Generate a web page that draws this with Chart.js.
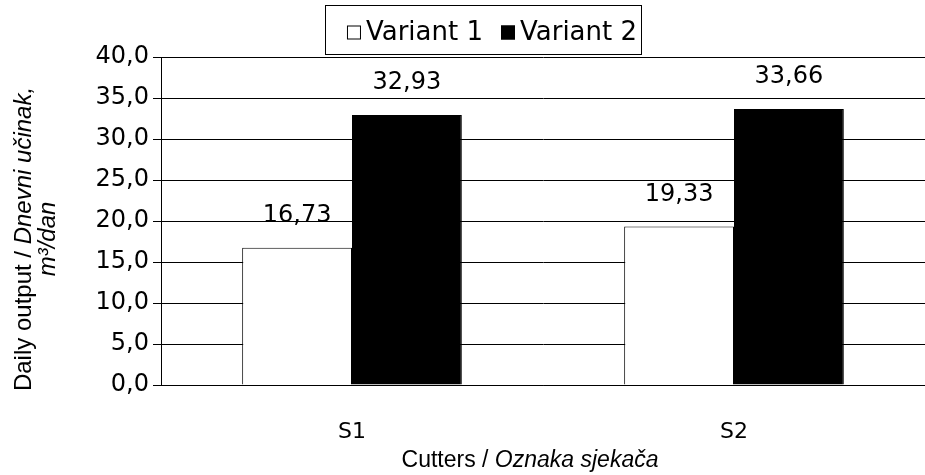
<!DOCTYPE html>
<html>
<head>
<meta charset="utf-8">
<script src="https://cdn.jsdelivr.net/npm/chart.js@4"></script>
<style>
  body { margin: 0; background: #fff; }
  #wrap { width: 925px; height: 475px; }
</style>
</head>
<body>
<div id="wrap"><canvas id="chart" width="925" height="475"></canvas></div>
<script>
const cutters = ["S1", "S2"]; // categories on the x axis
const variant1 = [16.73, 19.33]; // white bars
const variant2 = [32.93, 33.66]; // black bars
const seriesNames = ["Variant 1", "Variant 2"];

const fmt = v => v.toFixed(2).replace(".", ",");

// value labels above each bar
const barLabels = {
  id: "barLabels",
  afterDatasetsDraw(chart) {
    const ctx = chart.ctx;
    ctx.save();
    ctx.font = "24px 'DejaVu Sans'";
    ctx.fillStyle = "#000";
    ctx.textAlign = "center";
    ctx.textBaseline = "bottom";
    chart.data.datasets.forEach((ds, i) => {
      chart.getDatasetMeta(i).data.forEach((bar, j) => {
        ctx.fillText(fmt(ds.data[j]), bar.x, bar.y - 20);
      });
    });
    ctx.restore();
  }
};

// framed legend + axis titles with italic parts
const extras = {
  id: "extras",
  afterDraw(chart) {
    const ctx = chart.ctx;
    ctx.save();
    ctx.fillStyle = "#000";
    ctx.strokeStyle = "#000";

    // legend
    ctx.font = "26px 'DejaVu Sans'";
    const box = 14, gap = 5, space = 18;
    const items = chart.data.datasets.map(ds => ({
      ds, w: box + gap + ctx.measureText(ds.label).width
    }));
    const total = items.reduce((s, it) => s + it.w, 0) + space * (items.length - 1);
    const cx = 492, top = 5, h = 49;
    const fl = Math.round(cx - total / 2 - 22), fr = Math.round(cx + total / 2 + 4);
    ctx.lineWidth = 1;
    ctx.strokeRect(fl + 0.5, top + 0.5, fr - fl, h);
    let x = cx - total / 2;
    const my = top + h / 2 + 3;
    ctx.textBaseline = "middle";
    ctx.textAlign = "left";
    items.forEach(it => {
      ctx.fillStyle = it.ds.backgroundColor;
      ctx.fillRect(x, my - box / 2, box, box);
      ctx.strokeRect(x + 0.5, my - box / 2 + 0.5, box - 1, box - 1);
      ctx.fillStyle = "#000";
      ctx.fillText(it.ds.label, x + box + gap, my + 1);
      x += it.w + space;
    });

    // x title
    const area = chart.chartArea;
    const xf = "23px 'Liberation Sans'", xfi = "italic 23px 'Liberation Sans'";
    ctx.font = xf;
    const p1 = "Cutters / ", p2 = "Oznaka sjekača";
    const w1 = ctx.measureText(p1).width;
    ctx.font = xfi;
    const w2 = ctx.measureText(p2).width;
    let tx = 530 - (w1 + w2) / 2;
    ctx.textBaseline = "alphabetic";
    ctx.font = xf;
    ctx.fillText(p1, tx, 467);
    ctx.font = xfi;
    ctx.fillText(p2, tx + w1, 467);

    // y title (two lines, rotated)
    const yf = "24px 'Liberation Sans'", yfi = "italic 24px 'Liberation Sans'";
    ctx.translate(0, (area.top + area.bottom) / 2 + 18);
    ctx.rotate(-Math.PI / 2);
    const q1 = "Daily output / ", q2 = "Dnevni učinak,";
    ctx.font = yf;
    const v1 = ctx.measureText(q1).width;
    ctx.font = yfi;
    const v2 = ctx.measureText(q2).width;
    const sx = -(v1 + v2) / 2;
    ctx.font = yf;
    ctx.fillText(q1, sx, 31);
    ctx.font = yfi;
    ctx.fillText(q2, sx + v1, 31);
    ctx.textAlign = "center";
    ctx.fillText("m³/dan", 0, 55);
    ctx.restore();
  }
};

new Chart(document.getElementById("chart"), {
  type: "bar",
  data: {
    labels: cutters,
    datasets: [
      {
        label: seriesNames[0],
        data: variant1,
        backgroundColor: "#ffffff",
        borderColor: "#000000",
        borderWidth: 1
      },
      {
        label: seriesNames[1],
        data: variant2,
        backgroundColor: "#000000",
        borderColor: "#000000",
        borderWidth: 1
      }
    ]
  },
  options: {
    responsive: false,
    animation: false,
    layout: { padding: { top: 57, left: 0, right: 0, bottom: 0 } },
    datasets: { bar: { categoryPercentage: 0.575, barPercentage: 1 } },
    plugins: {
      legend: { display: false },
      tooltip: { enabled: false }
    },
    scales: {
      x: {
        grid: { display: false },
        border: { color: "#000", width: 1 },
        ticks: { color: "#000", font: { family: "DejaVu Sans", size: 22 }, padding: 26 },
        afterFit(scale) { scale.height = 90; }
      },
      y: {
        min: 0,
        max: 40,
        ticks: {
          stepSize: 5,
          color: "#000",
          font: { family: "DejaVu Sans", size: 24 },
          padding: 4,
          callback: v => v.toFixed(1).replace(".", ",")
        },
        grid: { color: "#000", lineWidth: 1, tickLength: 8 },
        border: { color: "#000", width: 1 },
        afterFit(scale) { scale.width = 161; }
      }
    }
  },
  plugins: [barLabels, extras]
});
</script>
</body>
</html>
